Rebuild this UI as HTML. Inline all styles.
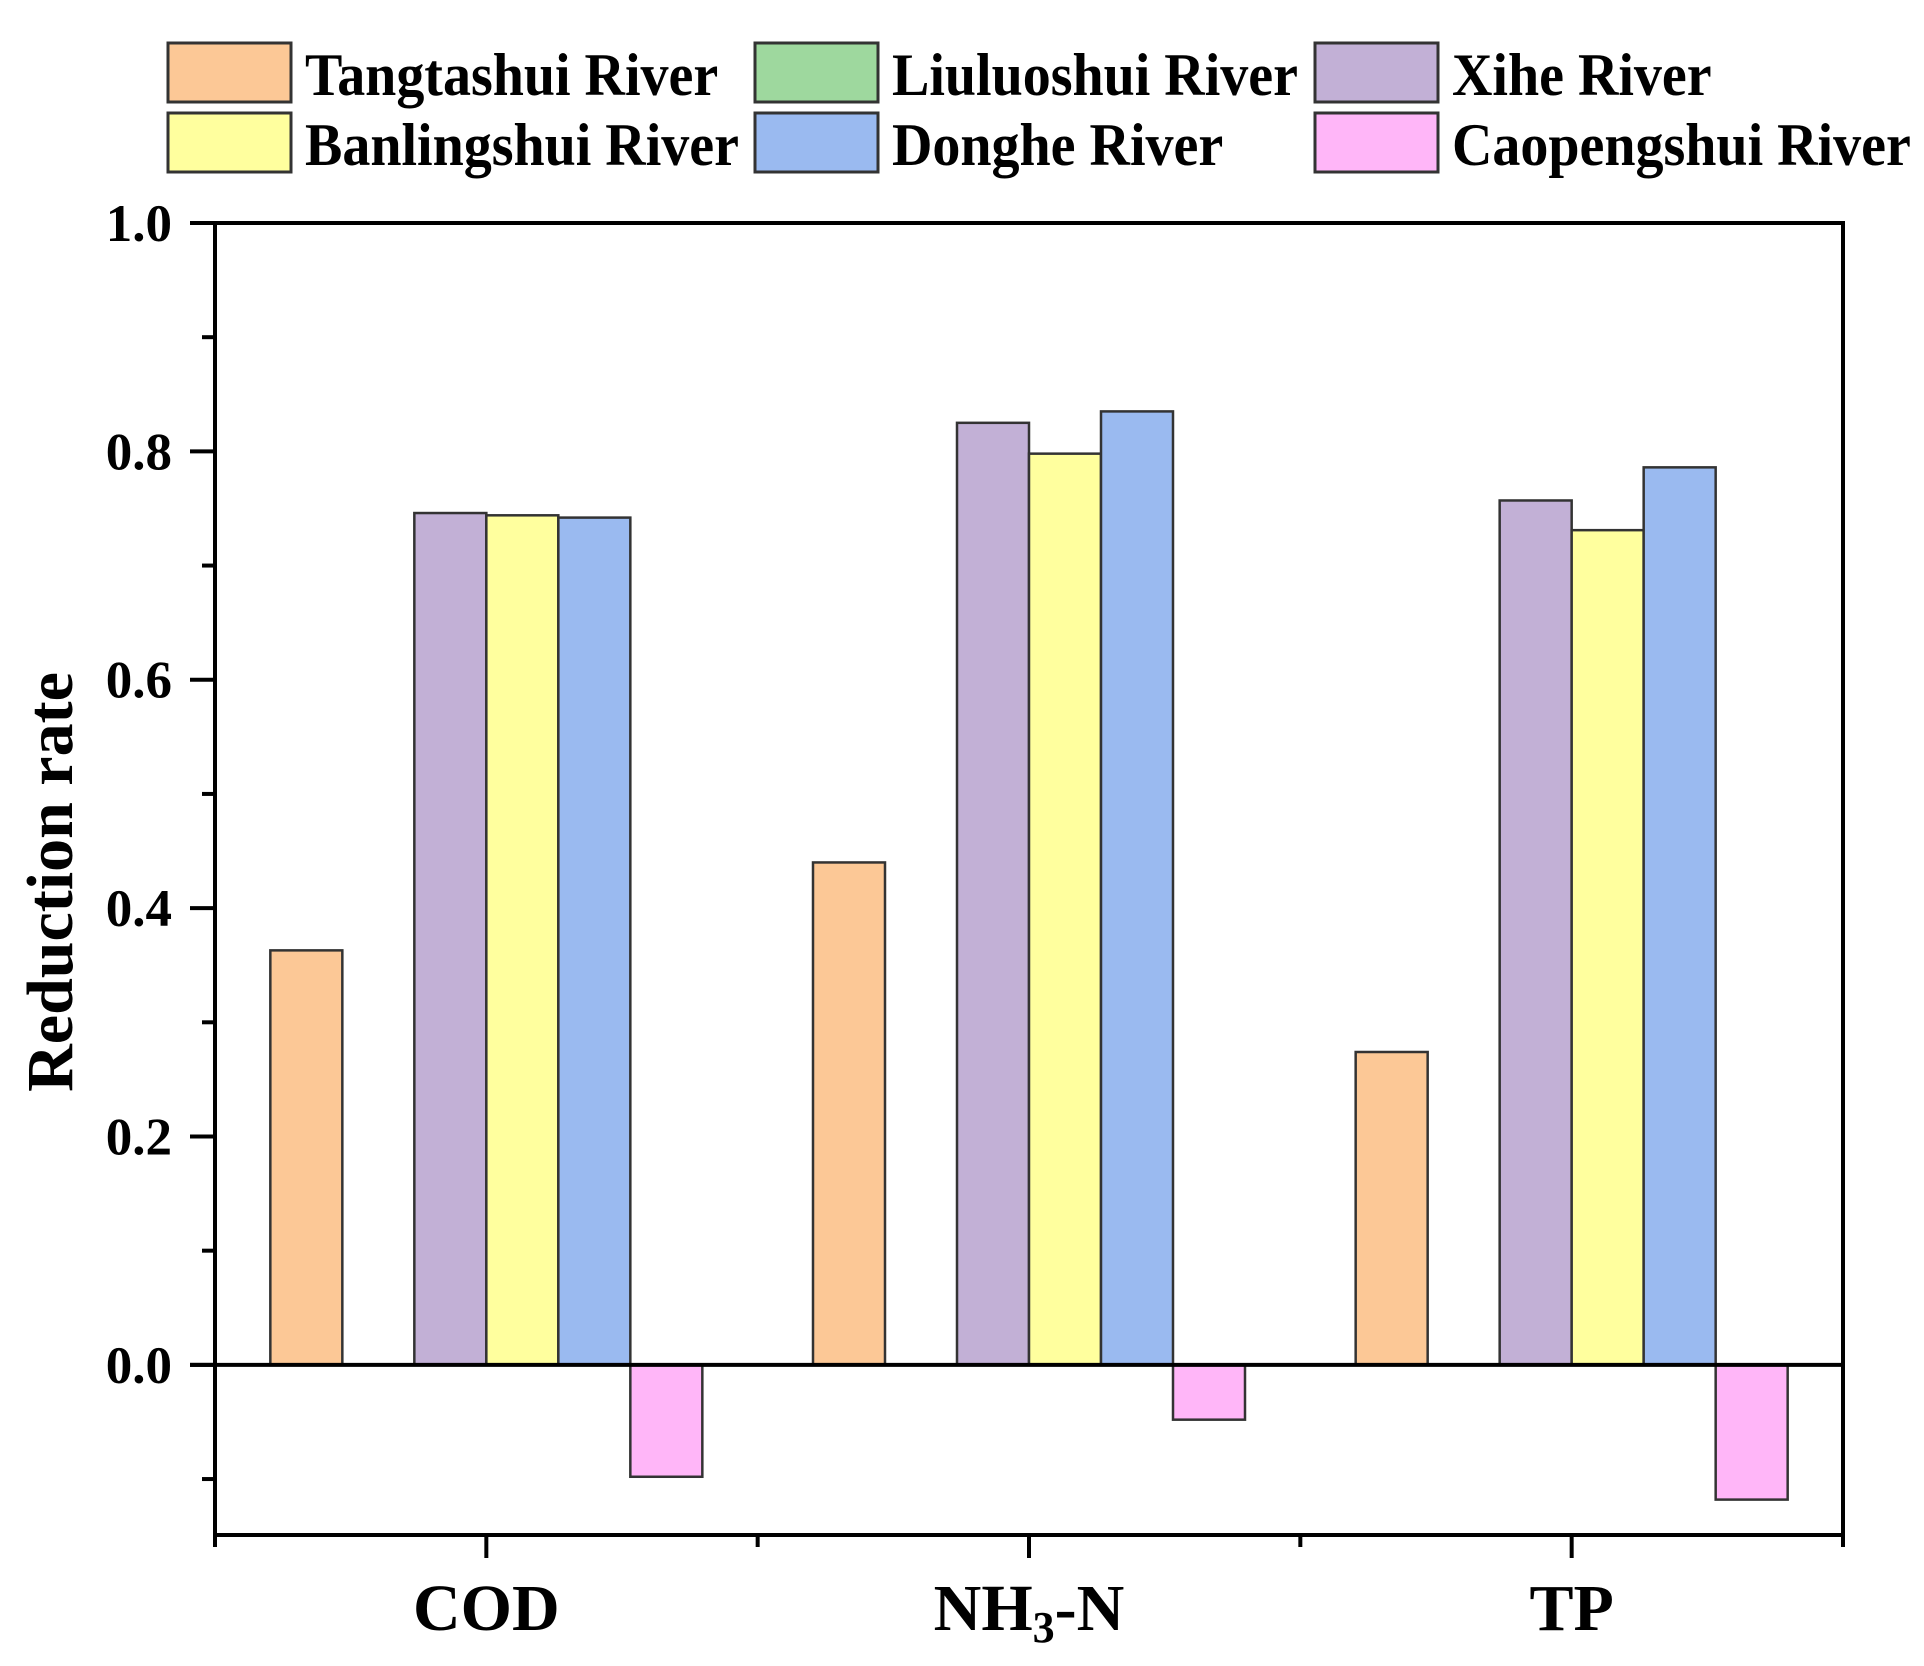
<!DOCTYPE html>
<html><head><meta charset="utf-8">
<style>
html,body{margin:0;padding:0;background:#fff;}
svg{display:block;font-family:"Liberation Serif",serif;font-weight:bold;}
</style></head>
<body>
<svg id="chart" width="1924" height="1666" viewBox="0 0 1924 1666" xmlns="http://www.w3.org/2000/svg">
<g id="legend"></g>
<g id="bars"></g>
<g id="axes"></g>
<text x="0" y="0" transform="translate(72,882) rotate(-90)" text-anchor="middle" font-size="66">Reduction rate</text>
</svg>
<script>
const categories = ["COD", "NH3-N", "TP"];
const seriesNames = ["Tangtashui River", "Liuluoshui River", "Xihe River", "Banlingshui River", "Donghe River", "Caopengshui River"];
const seriesColors = ["#FCC896", "#9ED89E", "#C2B0D6", "#FFFF9E", "#9ABAF0", "#FFB6F8"];
const tangtashui = [0.363, 0.44, 0.274];
const liuluoshui = [0, 0, 0];
const xihe = [0.746, 0.825, 0.757];
const banlingshui = [0.744, 0.798, 0.731];
const donghe = [0.742, 0.835, 0.786];
const caopengshui = [-0.098, -0.048, -0.118];
const yTicks = [0.0, 0.2, 0.4, 0.6, 0.8, 1.0];
const yTickLabels = ["0.0", "0.2", "0.4", "0.6", "0.8", "1.0"];
const yMinorTicks = [-0.1, 0.1, 0.3, 0.5, 0.7, 0.9];

const series = [tangtashui, liuluoshui, xihe, banlingshui, donghe, caopengshui];
const NS = "http://www.w3.org/2000/svg";
const L = 215, R = 1843, T = 223, B = 1535;
const yMin = -0.149, yMax = 1.0;
function y(v){ return T + (yMax - v) / (yMax - yMin) * (B - T); }
const band = (R - L) / categories.length;
function xc(i){ return L + band * (i + 0.5); }
const barW = 72;
function mk(tag, attrs, parent){ const e = document.createElementNS(NS, tag); for (const k in attrs) e.setAttribute(k, attrs[k]); parent.appendChild(e); return e; }

const gb = document.getElementById('bars');
series.forEach((vals, s) => {
  vals.forEach((v, i) => {
    if (v === 0) return;
    const x0 = xc(i) - 3 * barW + s * barW;
    const top = Math.min(y(v), y(0)), h = Math.abs(y(v) - y(0));
    const r = mk('rect', {x: x0, y: top, width: barW, height: h, fill: seriesColors[s], stroke: '#333', 'stroke-width': 2.5}, gb);
    
    
  });
});

const ga = document.getElementById('axes');
mk('rect', {x: L, y: T, width: R - L, height: B - T, fill: 'none', stroke: '#000', 'stroke-width': 4}, ga);
const zl = mk('line', {x1: 190, x2: R, y1: y(0), y2: y(0), stroke: '#000', 'stroke-width': 4}, ga);


yTicks.forEach((v, i) => {
  mk('line', {x1: 190, x2: L, y1: y(v), y2: y(v), stroke: '#000', 'stroke-width': 4}, ga);
  const t = mk('text', {x: 172, y: y(v) + 18, 'text-anchor': 'end', 'font-size': 53}, ga);
  t.textContent = yTickLabels[i];
  
  
});
yMinorTicks.forEach(v => { mk('line', {x1: 202, x2: L, y1: y(v), y2: y(v), stroke: '#000', 'stroke-width': 4}, ga); });
for (let i = 0; i <= categories.length; i++) {
  const x = L + band * i;
  mk('line', {x1: x, x2: x, y1: B, y2: B + 12, stroke: '#000', 'stroke-width': 4}, ga);
}
categories.forEach((c, i) => {
  mk('line', {x1: xc(i), x2: xc(i), y1: B, y2: B + 23, stroke: '#000', 'stroke-width': 4}, ga);
  const t = mk('text', {x: xc(i), y: 1630, 'text-anchor': 'middle', 'font-size': 66}, ga);
  if (c === 'NH3-N') {
    t.innerHTML = 'NH<tspan font-size="44" dy="12">3</tspan><tspan dy="-12">-N</tspan>';
  } else t.textContent = c;
  
  
});

const gl = document.getElementById('legend');
const colX = [168, 755, 1315], rowY = [43, 113];
const order = [0, 1, 2, 3, 4, 5];
order.forEach((s, k) => {
  const col = k % 3, row = Math.floor(k / 3);
  const g = mk('g', {}, gl);
  
  
  mk('rect', {x: colX[col], y: rowY[row], width: 123, height: 59, fill: seriesColors[s], stroke: '#333', 'stroke-width': 3}, g);
  const t = mk('text', {x: colX[col] + 137, y: rowY[row] + 52, 'font-size': 56, transform: 'translate(0,' + (rowY[row] + 52) + ') scale(1,1.08) translate(0,' + (-(rowY[row] + 52)) + ')'}, g);
  t.textContent = seriesNames[s];
});
</script>
</body></html>
